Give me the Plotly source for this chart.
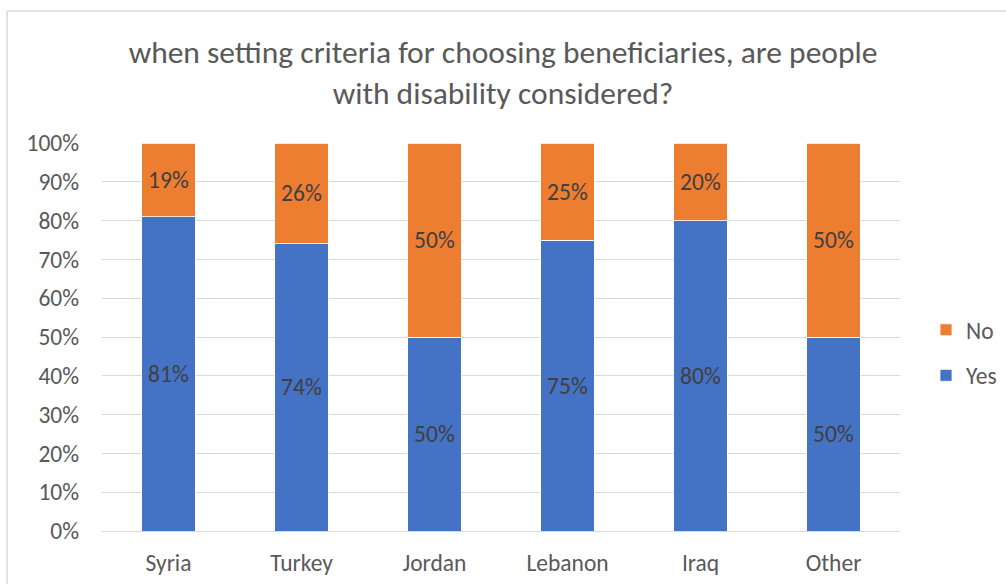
import plotly.graph_objects as go

categories = ["Syria", "Turkey", "Jordan", "Lebanon", "Iraq", "Other"]
yes_vals = [81, 74, 50, 75, 80, 50]
no_vals = [19, 26, 50, 25, 20, 50]
tick_vals = [0, 10, 20, 30, 40, 50, 60, 70, 80, 90, 100]
tick_text = [f"{v}%" for v in tick_vals]

FONT = "Carlito, Calibri, Lato, sans-serif"
TXT = "#595959"
FS = 23.5

fig = go.Figure()
fig.add_trace(go.Bar(
    x=categories, y=yes_vals, name="Yes", legendgroup="yes", legendrank=2,
    marker=dict(color="#4472C4", line=dict(color="white", width=0.8)),
    text=[f"{v}%" for v in yes_vals], textposition="inside", insidetextanchor="middle",
    textfont=dict(color="#404040", size=FS, family=FONT),
))
fig.add_trace(go.Bar(
    x=categories, y=no_vals, name="No", legendgroup="no", legendrank=1,
    marker=dict(color="#ED7D31", line=dict(color="white", width=0.8)),
    text=[f"{v}%" for v in no_vals], textposition="inside", insidetextanchor="middle",
    textfont=dict(color="#404040", size=FS, family=FONT),
))

W, H = 1006, 584
L, R, T, B = 102, 106, 143, 53
pw, ph = W - L - R, H - T - B

def px(x):
    return (x - L) / pw

def py(y):
    return (H - B - y) / ph

fig.update_layout(
    width=W, height=H,
    barmode="stack", bargap=0.6,
    margin=dict(l=L, r=R, t=T, b=B, autoexpand=False),
    paper_bgcolor="white", plot_bgcolor="white",
    font=dict(family=FONT, color=TXT, size=FS),
    title=dict(
        text="when setting criteria for choosing beneficiaries, are people<br>with disability considered?",
        x=0.5, xanchor="center", y=(H - 63) / H, yanchor="middle",
        font=dict(size=31.5, color=TXT, family=FONT, weight=300),
    ),
    legend=dict(
        x=px(926), y=py(353), xanchor="left", yanchor="middle",
        traceorder="grouped", font=dict(size=FS, color=TXT),
        itemwidth=30, tracegroupgap=12, bgcolor="rgba(0,0,0,0)",
    ),
    uniformtext=dict(mode="show", minsize=10),
    showlegend=True,
)
fig.update_xaxes(automargin=False, showgrid=False, showline=False, ticks="",
                 tickfont=dict(size=FS, color=TXT), ticklabelstandoff=15)
fig.update_yaxes(automargin=False, range=[0, 100], tickvals=tick_vals, ticktext=tick_text,
                 showgrid=True, gridcolor="#D9D9D9", gridwidth=1.2,
                 zeroline=True, zerolinecolor="#D9D9D9", zerolinewidth=1.2,
                 tickfont=dict(size=FS, color=TXT), ticklabelstandoff=22)

# chart area border (top and left edges visible)
fig.add_shape(type="line", xref="paper", yref="paper",
              x0=px(7), x1=px(1006), y0=py(11), y1=py(11),
              line=dict(color="#D9D9D9", width=1.5))
fig.add_shape(type="line", xref="paper", yref="paper",
              x0=px(7), x1=px(7), y0=py(11), y1=py(600),
              line=dict(color="#D9D9D9", width=1.5))

fig.write_html("out.html")
